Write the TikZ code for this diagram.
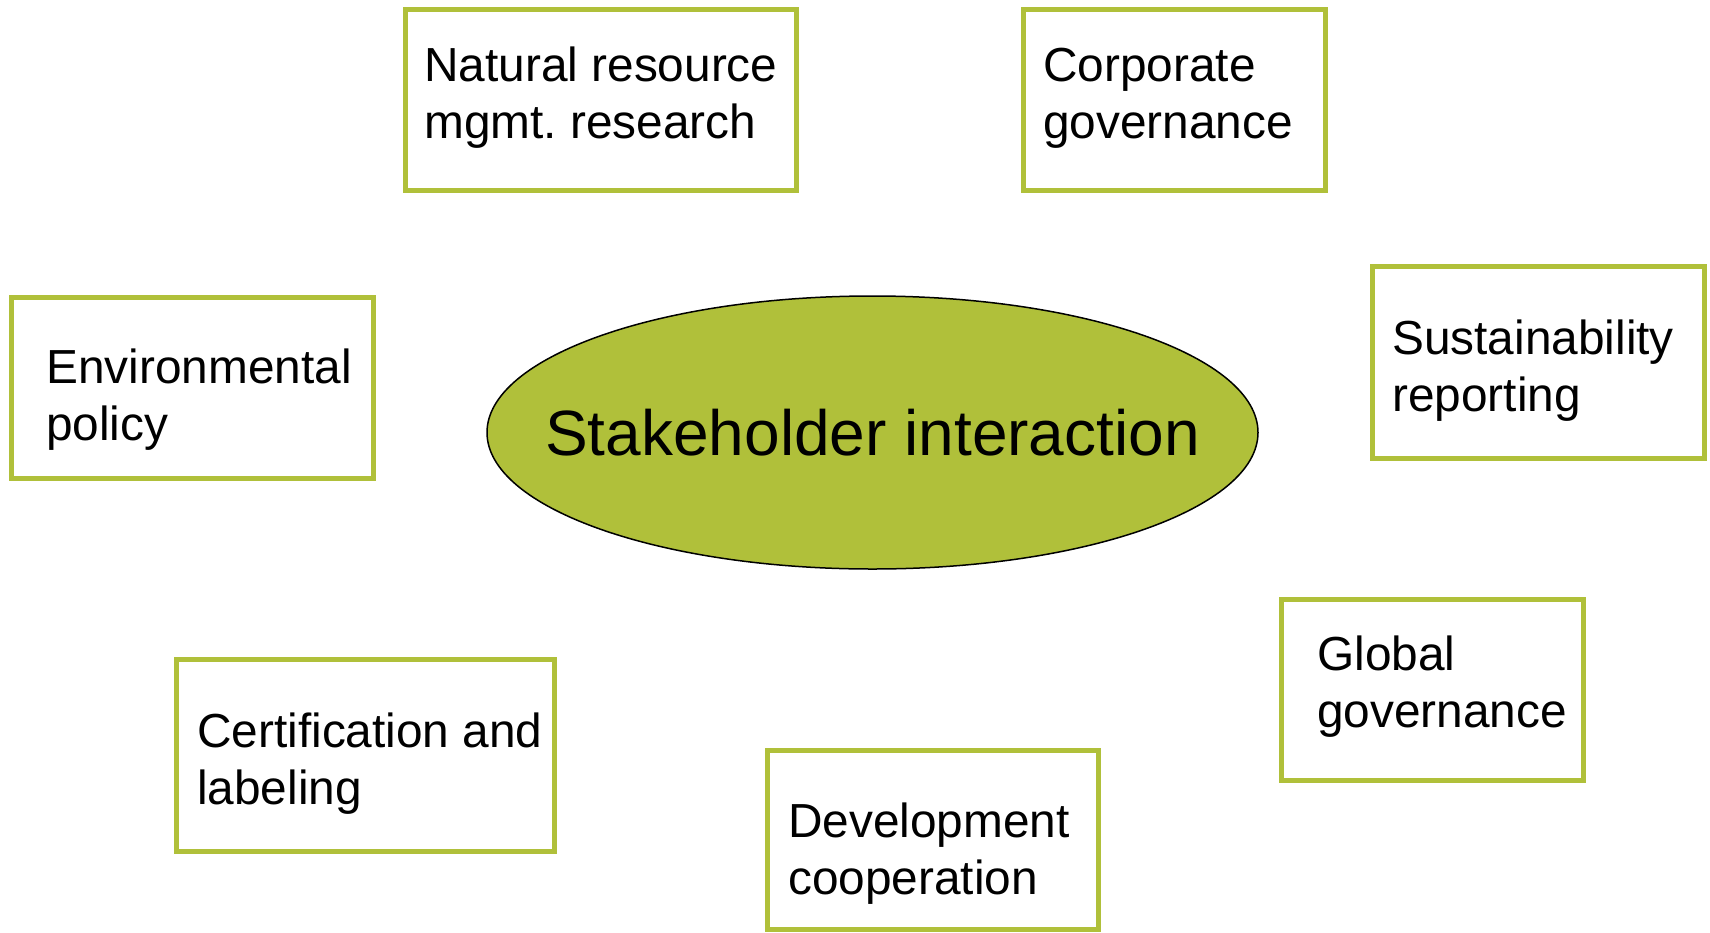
\documentclass[tikz,border=0pt]{standalone}
\usepackage{fontspec}
\setmainfont{Liberation Sans}
\usetikzlibrary{shapes.geometric}
\definecolor{leafgreen}{RGB}{176,192,58}
\frenchspacing
\newcommand{\twolines}[2]{\begin{tabular}[t]{@{}l@{}}#1\\#2\end{tabular}}
\begin{document}
\begin{tikzpicture}[x=1pt,y=-1pt,
  topicbox/.style={rectangle, draw=leafgreen, line width=5pt, fill=white,
    inner sep=0pt, anchor=north west},
  topiclabel/.style={anchor=base west, inner sep=0pt,
    font=\fontsize{47.8}{57.5}\selectfont},
  hub/.style={ellipse, draw=black, line width=1.5pt, fill=leafgreen,
    inner sep=0pt, minimum width=771pt, minimum height=273pt},
  hublabel/.style={inner sep=0pt, font=\fontsize{64}{76}\selectfont}]
  \useasboundingbox[fill=white] (0,0) rectangle (1710,932);

  % central ellipse
  \node[hub] (core) at (872.5,432.5) {};
  \node[hublabel] (coret) at (core.center) {Stakeholder interaction};

  % surrounding topic boxes (anchored at their outer corners)
  \node[topicbox, minimum width=391pt, minimum height=181pt] (nat) at (403,7) {};
  \node[topiclabel] (natt) at (424,81) {\twolines{Natural resource}{mgmt. research}};

  \node[topicbox, minimum width=302pt, minimum height=181pt] (corp) at (1021,7) {};
  \node[topiclabel] (corpt) at (1043,81) {\twolines{Corporate}{governance}};

  \node[topicbox, minimum width=332pt, minimum height=192pt] (sust) at (1370,264) {};
  \node[topiclabel] (sustt) at (1392,354) {\twolines{Sustainability}{reporting}};

  \node[topicbox, minimum width=362pt, minimum height=181pt] (env) at (9,295) {};
  \node[topiclabel] (envt) at (46,383) {\twolines{Environmental}{policy}};

  \node[topicbox, minimum width=378pt, minimum height=192pt] (cert) at (174,657) {};
  \node[topiclabel] (certt) at (197,747) {\twolines{Certification and}{labeling}};

  \node[topicbox, minimum width=331pt, minimum height=179pt] (dev) at (765,748) {};
  \node[topiclabel] (devt) at (788,837) {\twolines{Development}{cooperation}};

  \node[topicbox, minimum width=302pt, minimum height=181pt] (glob) at (1279,597) {};
  \node[topiclabel] (globt) at (1317,670) {\twolines{Global}{governance}};
\end{tikzpicture}
\end{document}
